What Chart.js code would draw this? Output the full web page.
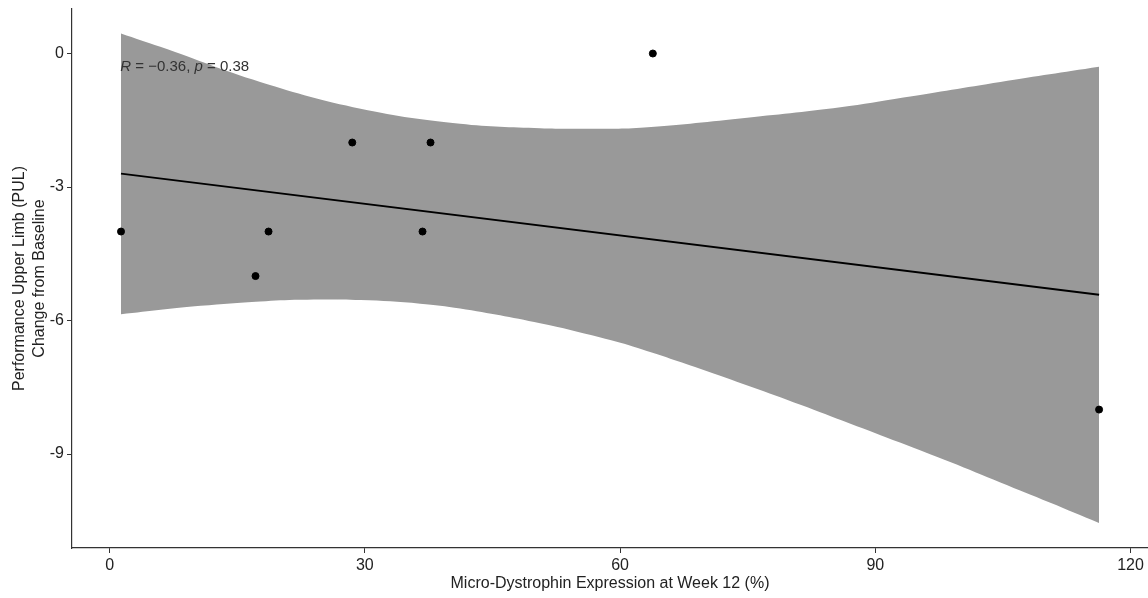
<!DOCTYPE html>
<html>
<head>
<meta charset="utf-8">
<script src="https://cdn.jsdelivr.net/npm/chart.js@4/dist/chart.umd.min.js"></script>
<style>
  html, body { margin: 0; padding: 0; background: #ffffff; }
  #wrap { width: 1148px; height: 598px; position: relative; }
</style>
</head>
<body>
<div id="wrap"><canvas id="c" width="1148" height="598"></canvas></div>
<script>
// Observed points
const expressionPct = [1.34, 17.15, 18.68, 28.52, 36.78, 37.72, 63.85, 116.3];
const pulChange     = [-4, -5, -4, -2, -4, -2, 0, -8];

// Regression line
const fitX = [1.34, 116.3];
const fitY = [-2.70, -5.42];

// Confidence band, upper edge
const bandUpperX = [1.34, 5.96, 17.7, 29.5, 41.2, 50.6, 56.5, 62.4, 74.1, 85.9, 93.3, 104.7, 116.3];
const bandUpperY = [0.45, 0.15, -0.64, -1.24, -1.58, -1.68, -1.69, -1.67, -1.46, -1.21, -0.99, -0.64, -0.30];

// Confidence band, lower edge
const bandLowerX = [1.34, 10.7, 17.7, 22.4, 29.5, 36.5, 41.2, 50.6, 57.7, 61.5, 69.4, 75.3, 81.2, 87.0, 92.9, 98.8, 104.7, 110.5, 116.3];
const bandLowerY = [-5.86, -5.67, -5.57, -5.53, -5.54, -5.62, -5.73, -6.06, -6.38, -6.58, -7.08, -7.48, -7.89, -8.31, -8.74, -9.18, -9.64, -10.09, -10.55];

// Axis ticks
const xTicks = [0, 30, 60, 90, 120];
const yTicks = [-9, -6, -3, 0];

const statLabel = { x: 1.26, y: -0.31, r: '-0.36', p: '0.38' };

const pts = (xs, ys) => xs.map((x, i) => ({ x: x, y: ys[i] }));

const FONT = "'Liberation Sans', Arial, sans-serif";

const statPlugin = {
  id: 'statLabel',
  afterDatasetsDraw(chart) {
    const ctx = chart.ctx;
    const xs = chart.scales.x, ys = chart.scales.y;
    let px = xs.getPixelForValue(statLabel.x);
    const py = ys.getPixelForValue(statLabel.y);
    ctx.save();
    ctx.fillStyle = '#333333';
    ctx.textBaseline = 'middle';
    ctx.textAlign = 'left';
    const parts = [
      ['italic', 'R'],
      ['normal', ' = \u2212' + statLabel.r.replace('-', '') + ', '],
      ['italic', 'p'],
      ['normal', ' = ' + statLabel.p]
    ];
    for (const [style, txt] of parts) {
      ctx.font = style + ' 15px ' + FONT;
      ctx.fillText(txt, px, py);
      px += ctx.measureText(txt).width;
    }
    ctx.restore();
  }
};

new Chart(document.getElementById('c'), {
  type: 'scatter',
  data: {
    datasets: [
      {
        label: 'upper',
        type: 'line',
        data: pts(bandUpperX, bandUpperY),
        borderWidth: 0,
        borderColor: 'rgba(0,0,0,0)',
        backgroundColor: '#999999',
        pointRadius: 0,
        tension: 0.4,
        fill: '+1',
        order: 3
      },
      {
        label: 'lower',
        type: 'line',
        data: pts(bandLowerX, bandLowerY),
        borderWidth: 0,
        borderColor: 'rgba(0,0,0,0)',
        backgroundColor: '#999999',
        pointRadius: 0,
        tension: 0.4,
        fill: false,
        order: 3
      },
      {
        label: 'fit',
        type: 'line',
        data: pts(fitX, fitY),
        borderColor: '#000000',
        borderWidth: 1.8,
        pointRadius: 0,
        fill: false,
        order: 2
      },
      {
        label: 'points',
        data: pts(expressionPct, pulChange),
        backgroundColor: '#000000',
        borderColor: '#000000',
        pointRadius: 3.5,
        order: 1
      }
    ]
  },
  options: {
    responsive: false,
    animation: false,
    layout: { autoPadding: false, padding: { top: 9, right: 0, bottom: 0, left: 0 } },
    plugins: {
      legend: { display: false },
      tooltip: { enabled: false }
    },
    scales: {
      x: {
        type: 'linear',
        min: -4.42,
        max: 122.05,
        afterBuildTicks: s => { s.ticks = xTicks.map(v => ({ value: v })); },
        afterFit: s => { s.height = 50; s.paddingLeft = 0; s.paddingRight = 0; },
        grid: { display: true, drawOnChartArea: false, drawTicks: true, tickLength: 5, color: '#333333' },
        border: { display: true, color: '#333333', width: 1.2 },
        ticks: { color: '#222222', font: { family: FONT, size: 16 }, padding: 3, maxRotation: 0 },
        title: {
          display: true,
          text: 'Micro-Dystrophin Expression at Week 12 (%)',
          color: '#222222',
          font: { family: FONT, size: 16, lineHeight: 1.25 },
          padding: { top: 0, bottom: 4 }
        }
      },
      y: {
        type: 'linear',
        min: -11.11,
        max: 1.0,
        afterBuildTicks: s => { s.ticks = yTicks.map(v => ({ value: v })); },
        afterFit: s => { s.width = 72; s.paddingTop = 0; s.paddingBottom = 0; },
        grid: { display: true, drawOnChartArea: false, drawTicks: true, tickLength: 5, color: '#333333' },
        border: { display: true, color: '#333333', width: 1.2 },
        ticks: { color: '#222222', font: { family: FONT, size: 16 }, padding: 3 },
        title: {
          display: true,
          text: ['Performance Upper Limb (PUL)', 'Change from Baseline'],
          color: '#222222',
          font: { family: FONT, size: 16, lineHeight: 1.25 },
          padding: { top: 10, bottom: 0 }
        }
      }
    }
  },
  plugins: [statPlugin]
});
</script>
</body>
</html>
